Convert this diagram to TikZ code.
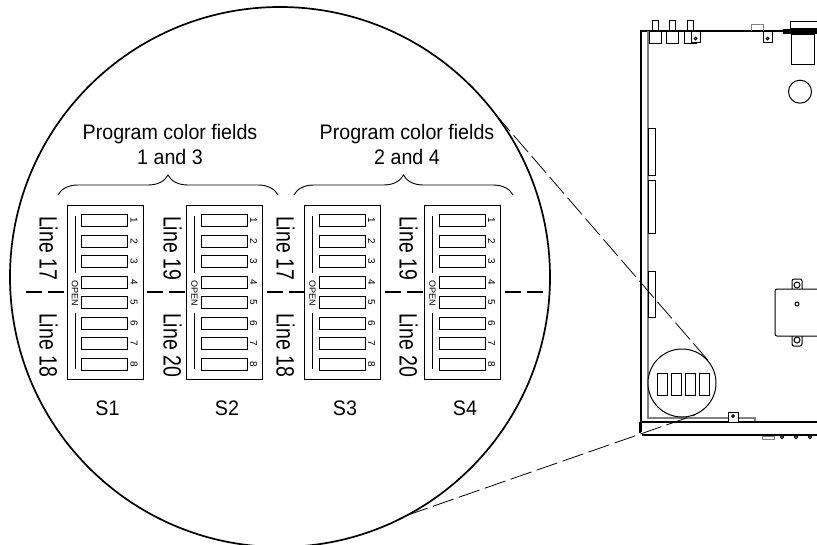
\documentclass[tikz,border=0pt]{standalone}
\usepackage{fontspec}
\setmainfont{Liberation Sans}
\newfontfamily\narrowfont{Liberation Sans}[FakeStretch=0.78]
\newfontfamily\headfont{Liberation Sans}[FakeStretch=0.935]
\usetikzlibrary{positioning, decorations.pathreplacing}
\tikzset{
    dipbox/.style={draw, line width=1pt, minimum width=76pt, minimum height=174pt, inner sep=0pt, outer sep=0pt},
    dipswitch/.style={draw, line width=1pt, minimum width=46pt, minimum height=12pt, inner sep=0pt},
    dipnum/.style={rotate=-90, inner sep=0pt, font=\fontsize{10}{10}\selectfont},
    openlabel/.style={rotate=-90, inner sep=0pt, font=\fontsize{9}{9}\selectfont},
    linelabel/.style={rotate=-90, inner sep=0pt, font=\narrowfont\fontsize{25}{25}\selectfont},
    headlabel/.style={inner sep=0pt, align=center, font=\headfont\fontsize{21}{25}\selectfont},
    swlabel/.style={inner sep=0pt, font=\headfont\fontsize{21}{21}\selectfont},
    centerdash/.style={line width=1.6pt, dash pattern=on 16pt off 6pt, dash phase=18pt},
    zoomdash/.style={line width=0.8pt, dash pattern=on 22pt off 5.5pt},
    fieldbrace/.style={line width=0.9pt, decorate, decoration={brace, amplitude=20pt}},
    chassis/.style={line width=1pt},
    innerwall/.style={line width=1.1pt, gray},
    outerwall/.style={line width=2.4pt}
}
\begin{document}
\begin{tikzpicture}[x=1pt, y=-1pt]
    \useasboundingbox (0,0) rectangle (817,544);

    % Chassis walls
    \draw[outerwall] (641,432) -- (641,31) -- (817,31);
    \draw[innerwall] (648,31) -- (648,418) -- (755,418) -- (755,422);
    \draw[chassis, line width=1.2pt] (640,422) -- (817,422);
    \draw[outerwall] (640,422) -- (640,433);
    \draw[line width=1.8pt] (642,435) -- (817,435);

    % Connectors along the top
    \foreach \x in {649,666,684} {
        \draw[chassis] (\x,31) rectangle ++(12,12.5);
        \draw[chassis] (\x+3.5,20) rectangle ++(6,11);
    }
    \foreach \x in {691,763} {
        \filldraw[chassis, fill=white] (\x,31) rectangle ++(9,11);
        \draw[chassis] (\x+4.5,38.5) circle (1.3);
    }
    \draw[chassis, gray] (751,31) -- (751,24.5) -- (763,24.5) -- (763,31);
    \draw[chassis] (790,21.5) rectangle (817,28);
    \draw[chassis] (791,34) rectangle (814,64);
    \draw[line width=5pt] (783,31) -- (817,31);
    \draw[chassis] (800,91.7) circle (11.5);

    % Boards on the left wall
    \foreach \ya/\yb in {128/175, 180/233, 271/317} {
        \draw[chassis] (648.5,\ya) rectangle (655,\yb);
    }

    % Box on the right
    \draw[chassis, rounded corners=2pt] (817,289) -- (775,289) -- (775,336) -- (817,336);
    \draw[chassis] (797,304) circle (2);
    \foreach \y/\ya/\yb in {285/289/279, 340/336/346} {
        \draw[chassis, rounded corners=2pt] (792,\ya) -- (792,\yb) -- (802,\yb) -- (802,\ya);
        \draw[chassis] (797,\y) circle (3);
    }

    % Bottom edge
    \filldraw[chassis, fill=white] (728,422) -- (728,412) -- (738,412) -- (738,422);
    \draw[chassis] (733,416) circle (1.3);
    \draw[chassis, gray] (762,436) rectangle (774,439);
    \foreach \x in {782,796,810} {
        \draw[chassis] (\x,437) circle (1.6);
    }

    % Small circle
    \node[circle, draw, fill=white, line width=1pt, minimum size=68pt, inner sep=0pt] (smallcircle) at (682,383) {};
    \foreach \x in {657,671,685,699} {
        \draw[chassis] (\x,373) rectangle ++(10,22);
    }

    % Big circle
    \node[circle, draw, line width=1.7pt, minimum size=540pt, inner sep=0pt, outer sep=0pt] (bigcircle) at (280,277) {};

    % Zoom lines
    \draw[zoomdash] (bigcircle.37) -- (smallcircle.42);
    \draw[zoomdash] (bigcircle.-62) -- (smallcircle.-69);

    % Switches
    \foreach \nm/\x in {S1/105, S2/224.5, S3/342.5, S4/462.5} {
        \node[dipbox] (\nm) at (\x,292) {};
        \foreach \i in {1,...,8} {
            \node[dipswitch] (\nm-\i) at (\x-0.5,220.7+20.5*\i-20.5) {};
            \node[dipnum] (\nm-num\i) at (\x+29,220.7+20.5*\i-20.5) {\i};
        }
        \node[openlabel] (\nm-open) at (\x-30,293) {OPEN};
        \coordinate (\nm-a) at (\x-30,215.7);
        \coordinate (\nm-b) at (\x-30,273);
        \coordinate (\nm-c) at (\x-30,313);
        \coordinate (\nm-d) at (\x-30,369);
        \draw[line width=1pt] (\nm-a) -- (\nm-b);
        \draw[line width=1pt] (\nm-c) -- (\nm-d);
        \node[swlabel] (\nm-name) at (\x+2.5,408) {\nm};
    }

    % Line labels
    \foreach \x/\up/\down in {48.5/17/18, 172.5/19/20, 285.5/17/18, 408.5/19/20} {
        \node[linelabel] (up\x) at (\x,248) {Line \up};
        \node[linelabel] (down\x) at (\x,345) {Line \down};
    }

    % Center line
    \coordinate (lineleft) at (26,292);
    \coordinate (lineright) at (544,292);
    \draw[centerdash, dash phase=0pt] (lineleft) -- (S1.west);
    \draw[centerdash] (S1.east) -- (S2.west);
    \draw[centerdash] (S2.east) -- (S3.west);
    \draw[centerdash] (S3.east) -- (S4.west);
    \draw[centerdash] (S4.east) -- (lineright);

    % Braces
    \coordinate (bracea) at (58,195);
    \coordinate (braceb) at (278,195);
    \coordinate (bracec) at (294,195);
    \coordinate (braced) at (513,195);
    \draw[fieldbrace] (bracea) -- (braceb);
    \draw[fieldbrace] (bracec) -- (braced);
    \node[headlabel] (fields13) at (170,144) {Program color fields\\1 and 3};
    \node[headlabel] (fields24) at (407,144) {Program color fields\\2 and 4};
\end{tikzpicture}
\end{document}
